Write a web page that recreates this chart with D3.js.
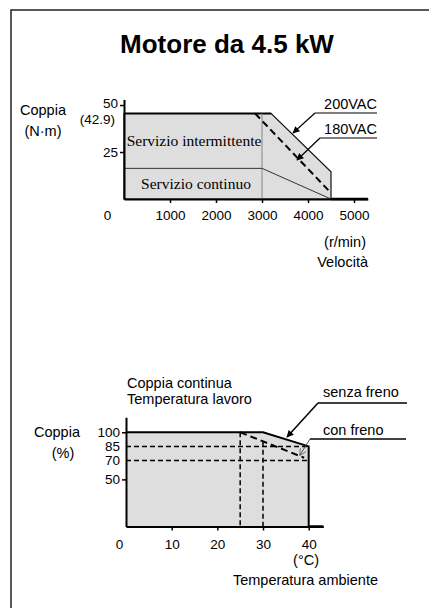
<!DOCTYPE html>
<html>
<head>
<meta charset="utf-8">
<script src="https://cdn.jsdelivr.net/npm/d3@7"></script>
<style>
  body { margin: 0; background: #fff; }
  svg { display: block; font-family: Arial, "Liberation Sans", sans-serif; }
  .serif { font-family: "Times New Roman", "Liberation Serif", serif; }
</style>
</head>
<body>
<div id="chart"></div>
<script>
'use strict';

// top chart: torque / speed
var speedTicks = [0, 1000, 2000, 3000, 4000, 5000];
var torqueTicks = [25, 50];
var peakLabel = '(42.9)';
var intermittent200 = [[0, 45.5], [3200, 45.5], [4500, 14.5], [4500, 0], [0, 0]];
var continuous = [[0, 16.3], [3000, 16.3], [4500, 0]];
var dashed180 = [[2850, 45.5], [4450, 4.5]];

// bottom chart: continuous torque vs ambient temperature
var tempTicks = [0, 10, 20, 30, 40];
var pctTicks = [50, 70, 85, 100];
var senzaFreno = [[0, 100], [30, 100], [40, 85], [40, 0], [0, 0]];
var conFreno = [[25, 100], [39, 73]];
var derateLevels = [85, 70];
var derateTemps = [[25, 100], [30, 90]];

var W = 429, H = 608;
var LBL = '14.5px', TICK = '13.5px';
var svg = d3.select('#chart').append('svg')
  .attr('width', W)
  .attr('height', H);

// outer frame (only left and top visible)
svg.append('rect')
  .attr('x', 11).attr('y', 10)
  .attr('width', 440).attr('height', 620)
  .attr('fill', 'none')
  .attr('stroke', '#222')
  .attr('stroke-width', 1.5);

svg.append('text')
  .attr('x', 227).attr('y', 53)
  .attr('text-anchor', 'middle')
  .style('font-size', '26px')
  .style('font-weight', 'bold')
  .text('Motore da 4.5 kW');

// arrowhead marker
var defs = svg.append('defs');
defs.append('marker')
  .attr('id', 'arr')
  .attr('viewBox', '0 0 10 10')
  .attr('refX', 9).attr('refY', 5)
  .attr('markerWidth', 9).attr('markerHeight', 7)
  .attr('markerUnits', 'userSpaceOnUse')
  .attr('orient', 'auto')
  .append('path').attr('d', 'M0,0L10,5L0,10Z').attr('fill', '#000');
defs.append('marker')
  .attr('id', 'arrOpen')
  .attr('viewBox', '0 0 10 10')
  .attr('refX', 9).attr('refY', 5)
  .attr('markerWidth', 9).attr('markerHeight', 7)
  .attr('markerUnits', 'userSpaceOnUse')
  .attr('orient', 'auto')
  .append('path').attr('d', 'M0,0L10,5L0,10').attr('fill', 'none').attr('stroke', '#555').attr('stroke-width', 1);

var line = d3.line();

function styleAxis(a) {
  a.select('.domain').attr('stroke', '#000').attr('stroke-width', 2);
  a.selectAll('.tick line').attr('stroke', '#000').attr('stroke-width', 1.5);
  a.selectAll('text').style('font-size', TICK).style('font-family', 'Arial, "Liberation Sans", sans-serif').attr('fill', '#000');
}

// ---------- top chart ----------
var x1 = d3.scaleLinear().domain([0, 5300]).range([124, 367.8]);
var y1 = d3.scaleLinear().domain([0, 53]).range([199, 99.4]);
var p1 = function(d) { return [x1(d[0]), y1(d[1])]; };

var topG = svg.append('g');

topG.append('path')
  .attr('d', line(intermittent200.map(p1)) + 'Z')
  .attr('fill', '#dedede')
  .attr('stroke', '#111')
  .attr('stroke-width', 1.2);

// thicker flat top
topG.append('path')
  .attr('d', line([intermittent200[0], intermittent200[1]].map(p1)))
  .attr('stroke', '#000')
  .attr('stroke-width', 2);

topG.append('line')
  .attr('x1', x1(3000)).attr('x2', x1(3000))
  .attr('y1', y1(45.5)).attr('y2', y1(0))
  .attr('stroke', '#888').attr('stroke-width', 1);

topG.append('path')
  .attr('d', line(continuous.map(p1)))
  .attr('fill', 'none')
  .attr('stroke', '#333')
  .attr('stroke-width', 1);

topG.append('path')
  .attr('d', line(dashed180.map(p1)))
  .attr('fill', 'none')
  .attr('stroke', '#000')
  .attr('stroke-width', 2)
  .attr('stroke-dasharray', '7,4');

var xa1 = topG.append('g')
  .attr('transform', 'translate(0,' + y1(0) + ')')
  .call(d3.axisBottom(x1).tickValues(speedTicks).tickFormat(d3.format('d')).tickSize(4).tickSizeOuter(0).tickPadding(7));
var ya1 = topG.append('g')
  .attr('transform', 'translate(' + x1(0) + ',0)')
  .call(d3.axisLeft(y1).tickValues(torqueTicks).tickSize(4).tickSizeOuter(0).tickPadding(2));

styleAxis(xa1);
styleAxis(ya1);
xa1.selectAll('.tick').filter(function(d) { return d === 0; }).select('text').attr('dx', -17);
xa1.selectAll('.tick').filter(function(d) { return d === 0; }).select('line').remove();
ya1.selectAll('.tick').filter(function(d) { return d === 50; }).select('text').attr('dy', '0.2em');

topG.append('line')
  .attr('x1', x1(4500)).attr('x2', x1(5300))
  .attr('y1', y1(0)).attr('y2', y1(0))
  .attr('stroke', '#000').attr('stroke-width', 2.5);

topG.append('text')
  .attr('x', 115).attr('y', y1(45.5) + 11)
  .attr('text-anchor', 'end')
  .style('font-size', TICK)
  .text(peakLabel);

topG.append('text').attr('x', 43).attr('y', 115).attr('text-anchor', 'middle').style('font-size', LBL).text('Coppia');
topG.append('text').attr('x', 43).attr('y', 136).attr('text-anchor', 'middle').style('font-size', LBL).text('(N·m)');

topG.append('text').attr('class', 'serif')
  .attr('x', 194).attr('y', 146)
  .attr('text-anchor', 'middle')
  .style('font-size', '15.5px')
  .text('Servizio intermittente');
topG.append('text').attr('class', 'serif')
  .attr('x', 196).attr('y', 189)
  .attr('text-anchor', 'middle')
  .style('font-size', '15.5px')
  .text('Servizio continuo');

topG.append('text').attr('x', 366).attr('y', 247).attr('text-anchor', 'end').style('font-size', LBL).text('(r/min)');
topG.append('text').attr('x', 368).attr('y', 267).attr('text-anchor', 'end').style('font-size', LBL).text('Velocità');

// voltage labels with leaders
var volt = [
  { text: '200VAC', tx: 377, ty: 109, ux0: 315, ux1: 377, uy: 113, ax: 293, ay: 133 },
  { text: '180VAC', tx: 377, ty: 134, ux0: 320, ux1: 377, uy: 138, ax: 297, ay: 160 }
];
volt.forEach(function(v) {
  topG.append('text').attr('x', v.tx).attr('y', v.ty).attr('text-anchor', 'end').style('font-size', LBL).text(v.text);
  topG.append('line').attr('x1', v.ux0).attr('x2', v.ux1).attr('y1', v.uy).attr('y2', v.uy)
    .attr('stroke', '#000').attr('stroke-width', 1.2);
  topG.append('line').attr('x1', v.ux0).attr('y1', v.uy).attr('x2', v.ax).attr('y2', v.ay)
    .attr('stroke', '#000').attr('stroke-width', 1.2).attr('marker-end', 'url(#arr)');
});

// ---------- bottom chart ----------
var x2 = d3.scaleLinear().domain([0, 43.2]).range([126, 323.3]);
var y2 = d3.scaleLinear().domain([0, 116]).range([526.5, 417.2]);
var p2 = function(d) { return [x2(d[0]), y2(d[1])]; };

var botG = svg.append('g');

botG.append('path')
  .attr('d', line(senzaFreno.map(p2)) + 'Z')
  .attr('fill', '#dedede')
  .attr('stroke', 'none');
botG.append('path')
  .attr('d', line(senzaFreno.slice(0, 4).map(p2)))
  .attr('fill', 'none')
  .attr('stroke', '#000')
  .attr('stroke-width', 2);

derateLevels.forEach(function(v) {
  botG.append('line')
    .attr('x1', x2(0)).attr('x2', x2(40))
    .attr('y1', y2(v)).attr('y2', y2(v))
    .attr('stroke', '#000').attr('stroke-width', 1.5).attr('stroke-dasharray', '5,3');
});
derateTemps.forEach(function(d) {
  botG.append('line')
    .attr('x1', x2(d[0])).attr('x2', x2(d[0]))
    .attr('y1', y2(d[1])).attr('y2', y2(0))
    .attr('stroke', '#000').attr('stroke-width', 1.5).attr('stroke-dasharray', '5,3');
});

botG.append('path')
  .attr('d', line(conFreno.map(p2)))
  .attr('fill', 'none')
  .attr('stroke', '#000')
  .attr('stroke-width', 2)
  .attr('stroke-dasharray', '7,4');

var xa2 = botG.append('g')
  .attr('transform', 'translate(0,' + y2(0) + ')')
  .call(d3.axisBottom(x2).tickValues(tempTicks).tickSize(4).tickSizeOuter(0).tickPadding(9));
var ya2 = botG.append('g')
  .attr('transform', 'translate(' + x2(0) + ',0)')
  .call(d3.axisLeft(y2).tickValues(pctTicks).tickSize(4).tickSizeOuter(0).tickPadding(2));

styleAxis(xa2);
styleAxis(ya2);
xa2.selectAll('.tick').filter(function(d) { return d === 0; }).select('text').attr('dx', -7);
xa2.selectAll('.tick').filter(function(d) { return d === 0; }).select('line').remove();
ya2.selectAll('.tick').filter(function(d) { return d === 70 || d === 85; }).select('line').remove();

botG.append('line')
  .attr('x1', x2(40)).attr('x2', x2(43.2))
  .attr('y1', y2(0)).attr('y2', y2(0))
  .attr('stroke', '#000').attr('stroke-width', 2.5);

botG.append('text').attr('x', 127).attr('y', 388).style('font-size', LBL).text('Coppia continua');
botG.append('text').attr('x', 127).attr('y', 404).style('font-size', LBL).text('Temperatura lavoro');

botG.append('text').attr('x', 57).attr('y', 437).attr('text-anchor', 'middle').style('font-size', LBL).text('Coppia');
botG.append('text').attr('x', 63).attr('y', 458).attr('text-anchor', 'middle').style('font-size', LBL).text('(%)');

botG.append('text').attr('x', 319).attr('y', 565).attr('text-anchor', 'end').style('font-size', LBL).text('(°C)');
botG.append('text').attr('x', 378).attr('y', 585).attr('text-anchor', 'end').style('font-size', LBL).text('Temperatura ambiente');

botG.append('text').attr('x', 323).attr('y', 397).style('font-size', LBL).text('senza freno');
botG.append('line').attr('x1', 318).attr('x2', 407).attr('y1', 403).attr('y2', 403)
  .attr('stroke', '#000').attr('stroke-width', 1.5);
botG.append('line').attr('x1', 318).attr('y1', 403).attr('x2', 287).attr('y2', 437)
  .attr('stroke', '#000').attr('stroke-width', 1.5).attr('marker-end', 'url(#arr)');

botG.append('text').attr('x', 323).attr('y', 435).style('font-size', LBL).text('con freno');
botG.append('line').attr('x1', 310).attr('x2', 406).attr('y1', 439).attr('y2', 439)
  .attr('stroke', '#000').attr('stroke-width', 1.5);
botG.append('line').attr('x1', 310).attr('y1', 439).attr('x2', 300).attr('y2', 455)
  .attr('stroke', '#555').attr('stroke-width', 1).attr('marker-end', 'url(#arrOpen)');
</script>
</body>
</html>
